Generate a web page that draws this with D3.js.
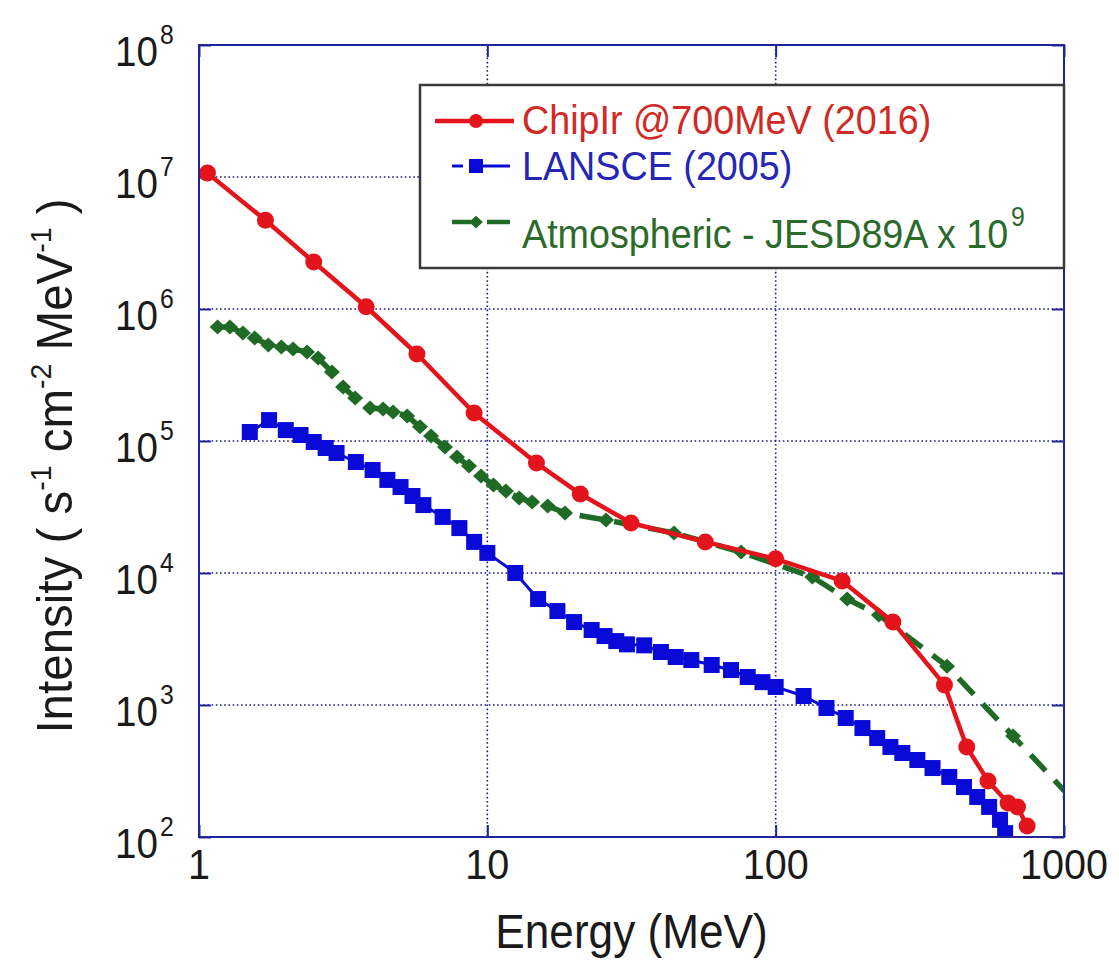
<!DOCTYPE html>
<html>
<head>
<meta charset="utf-8">
<script src="https://cdn.jsdelivr.net/npm/d3@7"></script>
<style>
  body { margin: 0; background: #fff; }
  svg { display: block; }
  text { font-family: "Liberation Sans", Arial, sans-serif; }
</style>
</head>
<body>
<svg id="chart" width="1119" height="963"></svg>
<script>
// Neutron spectra: energy (MeV) vs. intensity (s^-1 cm^-2 MeV^-1)
const chipirEnergy = [1.07, 1.7, 2.5, 3.8, 5.7, 9, 14.8, 21, 31.5, 57, 100, 170, 255, 385, 460, 545, 640, 690, 745];
const chipirFlux   = [1.07e7, 4.7e6, 2.27e6, 1.04e6, 4.56e5, 1.63e5, 6.8e4, 3.97e4, 2.39e4, 1.72e4, 1.28e4, 8.7e3, 4.25e3, 1.42e3, 480, 266, 181, 169, 121];

const lansceEnergy = [1.5, 1.75, 2, 2.25, 2.5, 2.75, 3, 3.5, 4, 4.5,
                      5, 5.5, 6, 7, 8, 9, 10, 12.5, 15, 17.5,
                      20, 23, 25.5, 28, 30.5, 35, 40, 45, 51, 60,
                      70, 80, 90, 100, 125, 150, 175, 200, 225, 250,
                      275, 310, 350, 400, 450, 500, 550, 600, 625];
const lansceFlux   = [1.17e5, 1.44e5, 1.21e5, 1.11e5, 9.83e4, 8.85e4, 8.11e4, 6.93e4, 6.03e4, 5.07e4,
                      4.48e4, 3.83e4, 3.27e4, 2.66e4, 2.19e4, 1.72e4, 1.42e4, 1.0e4, 6.35e3, 5.15e3,
                      4.25e3, 3.70e3, 3.33e3, 3.05e3, 2.88e3, 2.83e3, 2.52e3, 2.31e3, 2.19e3, 2.01e3,
                      1.84e3, 1.63e3, 1.49e3, 1.37e3, 1.17e3, 949, 797, 669, 562, 481,
                      433, 383, 333, 285, 239, 201, 169, 135, 107];

const jesdEnergy = [1.16, 1.28, 1.42, 1.56, 1.74, 1.93, 2.12, 2.37, 2.59, 2.89,
                    3.16, 3.48, 3.92, 4.35, 4.71, 5.27, 5.84, 6.38, 7.13, 7.85,
                    8.64, 9.51, 10.5, 11.6, 12.9, 14.3, 16.2, 18.6, 25.8, 44.4,
                    75.9, 134, 177, 228, 393, 666, 1050];
const jesdFlux   = [7.31e5, 7.31e5, 6.58e5, 6.03e5, 5.34e5, 5.15e5, 4.98e5, 4.72e5, 4.25e5, 3.33e5,
                    2.56e5, 2.12e5, 1.78e5, 1.75e5, 1.66e5, 1.55e5, 1.28e5, 1.09e5, 9.01e4, 7.57e4,
                    6.47e4, 5.43e4, 4.64e4, 4.18e4, 3.70e4, 3.45e4, 3.22e4, 2.85e4, 2.52e4, 2.01e4,
                    1.44e4, 9.33e3, 6.35e3, 4.81e3, 1.97e3, 582, 201];

const xTickValues = [1, 10, 100, 1000];
const yTickExponents = [2, 3, 4, 5, 6, 7, 8];
const legendLabels = ["ChipIr @700MeV (2016)", "LANSCE (2005)", "Atmospheric - JESD89A x 10"];
const legendSuperscript = "9";

const svg = d3.select("#chart");
const plotL = 199, plotR = 1064, plotT = 45, plotB = 837;

const x = d3.scaleLog().domain([1, 1000]).range([plotL, plotR]);
const y = d3.scaleLog().domain([1e2, 1e8]).range([plotB, plotT]);

const frameColor = "#24249a";
const gridColor = "#1c1c80";
const squeeze = 0.92;   // narrow glyph proportions used throughout the figure

// Dotted grid at each decade
const grid = svg.append("g");
xTickValues.slice(1, -1).forEach(v => {
  grid.append("line")
    .attr("x1", x(v)).attr("x2", x(v)).attr("y1", plotT).attr("y2", plotB)
    .attr("stroke", gridColor).attr("stroke-width", 1.6).attr("stroke-dasharray", "1.6,2.6");
});
yTickExponents.slice(1, -1).forEach(e => {
  grid.append("line")
    .attr("x1", plotL).attr("x2", plotR).attr("y1", y(Math.pow(10, e))).attr("y2", y(Math.pow(10, e)))
    .attr("stroke", gridColor).attr("stroke-width", 1.6).attr("stroke-dasharray", "1.6,2.6");
});

// Inward ticks on all four sides
const yTickVals = yTickExponents.map(e => Math.pow(10, e));
const yAxisL = d3.axisRight(y).tickValues(yTickVals).tickSize(12).tickFormat("");
const yAxisR = d3.axisLeft(y).tickValues(yTickVals).tickSize(12).tickFormat("");
const xAxisB = d3.axisTop(x).tickValues(xTickValues).tickSize(12).tickFormat("");
const xAxisT = d3.axisBottom(x).tickValues(xTickValues).tickSize(12).tickFormat("");
[[yAxisL, `translate(${plotL},0)`], [yAxisR, `translate(${plotR},0)`],
 [xAxisB, `translate(0,${plotB})`], [xAxisT, `translate(0,${plotT})`]].forEach(([ax, tr]) => {
  const g = svg.append("g").attr("transform", tr).call(ax);
  g.select(".domain").remove();
  g.selectAll(".tick line").attr("stroke", frameColor).attr("stroke-width", 2);
});

// Clip region for the data
svg.append("clipPath").attr("id", "plotClip")
  .append("rect").attr("x", plotL).attr("y", plotT).attr("width", plotR - plotL).attr("height", plotB - plotT);

const plot = svg.append("g").attr("clip-path", "url(#plotClip)");
const line = d3.line().x(d => x(d[0])).y(d => y(d[1]));

const chipir = d3.zip(chipirEnergy, chipirFlux);
const lansce = d3.zip(lansceEnergy, lansceFlux);
const jesd = d3.zip(jesdEnergy, jesdFlux);

const red = "#e3141b", blue = "#0a0ad8", green = "#1f6b26";

// LANSCE: thin line with square markers
plot.append("path").datum(lansce).attr("d", line)
  .attr("fill", "none").attr("stroke", blue).attr("stroke-width", 3);
plot.selectAll(".sq").data(lansce).join("rect")
  .attr("x", d => x(d[0]) - 8).attr("y", d => y(d[1]) - 8)
  .attr("width", 16).attr("height", 16).attr("fill", blue);

// JESD89A atmospheric: dashed line with diamond markers
plot.append("path").datum(jesd).attr("d", line)
  .attr("fill", "none").attr("stroke", green).attr("stroke-width", 5.5)
  .attr("stroke-dasharray", "22,13");
const diamond = "M0,-7.5 L8,0 L0,7.5 L-8,0 Z";
plot.selectAll(".dm").data(jesd).join("path")
  .attr("d", diamond).attr("transform", d => `translate(${x(d[0])},${y(d[1])})`)
  .attr("fill", green);

// ChipIr: thick line with round markers
plot.append("path").datum(chipir).attr("d", line)
  .attr("fill", "none").attr("stroke", red).attr("stroke-width", 4.5).attr("stroke-linejoin", "round");
plot.selectAll(".ci").data(chipir).join("circle")
  .attr("cx", d => x(d[0])).attr("cy", d => y(d[1])).attr("r", 8.5).attr("fill", red);

// Frame
svg.append("rect").attr("x", plotL).attr("y", plotT).attr("width", plotR - plotL).attr("height", plotB - plotT)
  .attr("fill", "none").attr("stroke", frameColor).attr("stroke-width", 2);

// Text helper: narrow text anchored at (tx, ty)
function label(parent, tx, ty, size, anchor, color, str) {
  return parent.append("text")
    .attr("transform", `translate(${tx},${ty}) scale(${squeeze},1)`)
    .attr("text-anchor", anchor).attr("font-size", size).attr("fill", color).text(str);
}

// Tick labels
const tickColor = "#1a1a1a";
yTickExponents.forEach(e => {
  const yy = y(Math.pow(10, e));
  label(svg, 158, yy + 21, 42, "end", tickColor, "10");
  label(svg, 160, yy - 1, 27, "start", tickColor, String(e));
});
xTickValues.forEach(v => {
  label(svg, x(v), plotB + 42, 43, "middle", tickColor, String(v));
});

// Axis titles
label(svg, (plotL + plotR) / 2, 948, 48, "middle", tickColor, "Energy (MeV)");

const yTitle = svg.append("text")
  .attr("transform", "translate(72,466) rotate(-90) scale(0.95,1)")
  .attr("text-anchor", "middle").attr("font-size", 50).attr("fill", tickColor);
yTitle.append("tspan").text("Intensity ( s");
yTitle.append("tspan").attr("font-size", 30).attr("dy", -21).text("-1");
yTitle.append("tspan").attr("dy", 21).text(" cm");
yTitle.append("tspan").attr("font-size", 30).attr("dy", -21).text("-2");
yTitle.append("tspan").attr("dy", 21).text(" MeV");
yTitle.append("tspan").attr("font-size", 30).attr("dy", -21).text("-1");
yTitle.append("tspan").attr("dy", 21).text(" )");

// Legend
const lg = svg.append("g");
lg.append("rect").attr("x", 420).attr("y", 85).attr("width", plotR - 420).attr("height", 183)
  .attr("fill", "#fff").attr("stroke", "#3a3a3a").attr("stroke-width", 2.5);

// ChipIr entry
lg.append("line").attr("x1", 435).attr("x2", 514).attr("y1", 121).attr("y2", 121)
  .attr("stroke", red).attr("stroke-width", 4.5);
lg.append("circle").attr("cx", 476).attr("cy", 121).attr("r", 7).attr("fill", red);
label(lg, 522, 134, 41, "start", "#cf2a25", legendLabels[0]);

// LANSCE entry
lg.append("line").attr("x1", 452).attr("x2", 463).attr("y1", 166).attr("y2", 166)
  .attr("stroke", blue).attr("stroke-width", 3);
lg.append("line").attr("x1", 476).attr("x2", 510).attr("y1", 166).attr("y2", 166)
  .attr("stroke", blue).attr("stroke-width", 3);
lg.append("rect").attr("x", 469).attr("y", 159).attr("width", 14).attr("height", 14).attr("fill", blue);
label(lg, 522, 180, 41, "start", "#2626b4", legendLabels[1]);

// Atmospheric entry
lg.append("line").attr("x1", 452).attr("x2", 471).attr("y1", 222).attr("y2", 222)
  .attr("stroke", green).attr("stroke-width", 4.5);
lg.append("line").attr("x1", 487).attr("x2", 510).attr("y1", 222).attr("y2", 222)
  .attr("stroke", green).attr("stroke-width", 4.5);
lg.append("path").attr("d", diamond).attr("transform", "translate(476,222) scale(0.85)").attr("fill", green);
const atm = label(lg, 522, 248, 41, "start", "#2b6a2b", null);
atm.append("tspan").text(legendLabels[2]);
atm.append("tspan").attr("font-size", 27).attr("dy", -22).attr("dx", 3).text(legendSuperscript);
</script>
</body>
</html>
